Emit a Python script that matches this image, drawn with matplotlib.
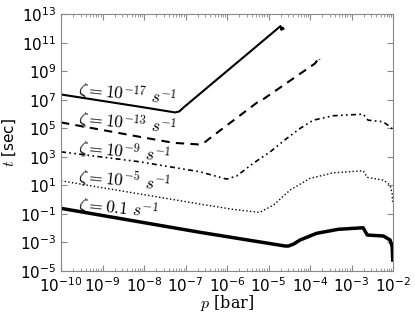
import numpy as np
import matplotlib.pyplot as plt
from matplotlib.ticker import LogLocator, NullFormatter

# as log10(p [bar]) and log10(t [sec])
lp_17 = [-10, -8.10, -7.40, -7.25, -7.15, -7.05, -4.71, -4.69, -4.66, -4.64]
lt_17 = [7.37, 6.51, 6.18, 6.11, 6.18, 6.45, 12.16, 11.90, 12.05, 11.97]

lp_13 = [-10, -8.10, -7.29, -6.69, -6.57, -6.37, -5.25, -5.16, -3.88, -3.84, -3.80, -3.77]
lt_13 = [5.41, 4.40, 3.98, 3.87, 3.94, 4.40, 6.86, 6.97, 9.54, 9.70, 10.0, 9.80]

lp_9 = [-10, -8.10, -6.65, -6.01, -5.77, -5.37, -4.96, -4.56, -4.24, -3.92, -3.44,
        -2.72, -2.60, -2.24, -2.05, -2.0]
lt_9 = [3.35, 2.65, 1.95, 1.44, 1.65, 2.54, 3.35, 4.29, 4.99, 5.57, 5.88,
        5.99, 5.57, 5.46, 5.06, 4.90]

lp_5 = [-10, -6.65, -5.86, -5.21, -4.88, -4.48, -4.00, -3.44, -2.72, -2.62, -2.23,
        -2.07, -2.02, -2.01]
lt_5 = [1.32, -0.31, -0.68, -0.89, -0.38, 0.67, 1.49, 1.88, 2.02, 1.56, 1.37,
        1.02, 0.40, -0.15]

lp_01 = [-10, -6.65, -4.60, -4.52, -4.40, -4.24, -3.84, -3.32, -2.72, -2.62, -2.23,
         -2.07, -2.02, -2.007]
lt_01 = [-0.61, -2.29, -3.25, -3.25, -3.12, -2.83, -2.36, -2.08, -1.97, -2.48, -2.55,
         -2.83, -3.30, -4.23]

labels = [r'$\zeta = \mathit{10}^{-17}\ s^{-1}$',
          r'$\zeta = \mathit{10}^{-13}\ s^{-1}$',
          r'$\zeta = \mathit{10}^{-9}\ s^{-1}$',
          r'$\zeta = \mathit{10}^{-5}\ s^{-1}$',
          r'$\zeta = \mathit{0.1}\ s^{-1}$']
label_p = [-9.59, -9.59, -9.59, -9.59, -9.59]
label_t = [7.32, 5.29, 3.26, 1.23, -0.76]

fig = plt.figure(figsize=(4.15, 3.14), dpi=100)
ax = fig.add_axes([0.147, 0.137, 0.800, 0.818])

p = lambda a: 10.0 ** np.array(a)

ax.plot(p(lp_17), p(lt_17), 'k-', lw=1.5)
ax.plot(p(lp_13), p(lt_13), 'k--', lw=1.5, dashes=(4, 3))
ax.plot(p(lp_9), p(lt_9), 'k', lw=1.2, dashes=(3, 2, 1, 2, 1, 2))
ax.plot(p(lp_5), p(lt_5), 'k:', lw=1.0)
ax.plot(p(lp_01), p(lt_01), 'k-', lw=2.5)

for s, x, y in zip(labels, label_p, label_t):
    ax.text(10 ** x, 10 ** y, s, fontsize=12.5, rotation=-6, ha='left', va='baseline',
            math_fontfamily='cm', rotation_mode='anchor')

ax.set_xscale('log')
ax.set_yscale('log')
ax.set_xlim(1e-10, 1e-2)
ax.set_ylim(1e-5, 1e13)

ax.xaxis.set_major_locator(LogLocator(base=10, numticks=20))
ax.xaxis.set_minor_locator(LogLocator(base=10, subs=np.arange(2, 10), numticks=20))
ax.xaxis.set_minor_formatter(NullFormatter())
ax.set_yticks([10.0 ** k for k in range(-5, 14, 2)])
ax.yaxis.set_minor_locator(plt.NullLocator())

ax.tick_params(which='both', direction='in', top=True, right=True, labelsize=11,
               color='#888888')
ax.tick_params(which='major', length=4)
ax.tick_params(which='minor', length=2)
for sp in ax.spines.values():
    sp.set_color('#888888')

ax.set_xlabel(r'$p$ [bar]', fontsize=11.5, family='DejaVu Serif', labelpad=-1,
              math_fontfamily='cm')
ax.set_ylabel(r'$t$ [sec]', fontsize=11, labelpad=1, math_fontfamily='cm')

plt.savefig('out.png', dpi=100)
